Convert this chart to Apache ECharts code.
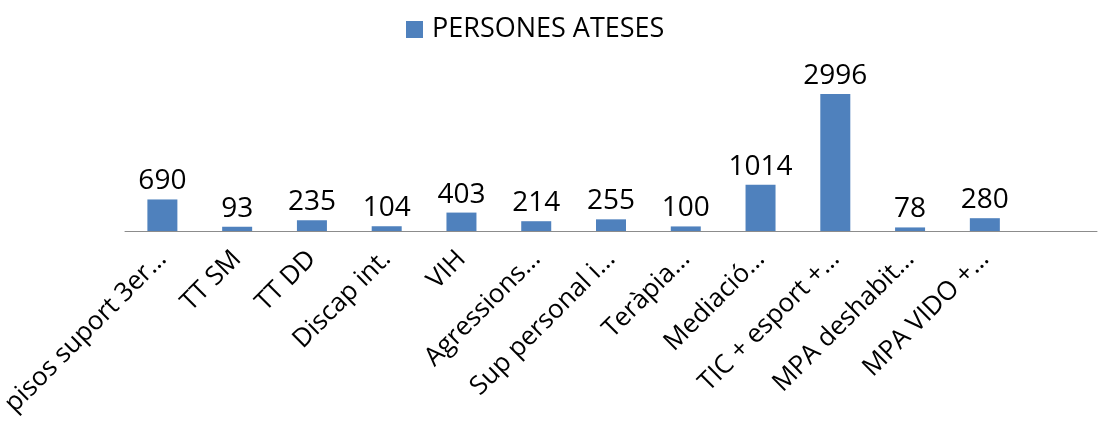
<!DOCTYPE html>
<html lang="ca">
<head>
    <meta charset="UTF-8"/>
    <title>Persones ateses</title>
    <script src="https://cdn.jsdelivr.net/npm/echarts@6.0.0/dist/echarts.min.js"></script>
    <style>
        * {
            margin: 0;
            padding: 0;
            box-sizing: border-box;
        }

        body {
            background: #FFFFFF;
        }

        #chart {
            width: 1104px;
            height: 428px;
        }
    </style>
</head>
<body>
<div id="chart"></div>
<script>
    const categories = ['pisos suport 3er…', 'TT SM', 'TT DD', 'Discap int.', 'VIH', 'Agressions…',
        'Sup personal i…', 'Teràpia…', 'Mediació…', 'TIC + esport +…', 'MPA deshabit…', 'MPA VIDO +…', ''];
    const ateses = [690, 93, 235, 104, 403, 214, 255, 100, 1014, 2996, 78, 280, null];
    const seriesName = 'PERSONES ATESES';

    const font = "'Open Sans', 'Liberation Sans', sans-serif";
    const myChart = echarts.init(document.getElementById('chart'));

    myChart.setOption({
        animation: false,
        textStyle: {fontFamily: font},
        legend: {
            top: 11,
            left: 401,
            itemWidth: 17,
            itemHeight: 17,
            textStyle: {fontSize: 27, color: '#000', fontFamily: font, padding: [0, 0, 0, 4]},
            data: [{name: seriesName, icon: 'rect'}]
        },
        grid: {
            left: 125,
            right: 7,
            top: 71,
            bottom: 197,
            containLabel: false,
            outerBoundsMode: 'none'
        },
        xAxis: {
            type: 'category',
            data: categories,
            axisLine: {lineStyle: {color: '#8c8c8c', width: 1}},
            axisTick: {show: false},
            axisLabel: {
                interval: 0,
                rotate: 45,
                margin: 24,
                fontSize: 26,
                color: '#000',
                fontFamily: font
            }
        },
        yAxis: {
            type: 'value',
            min: 0,
            max: 3500,
            show: false,
            splitLine: {show: false}
        },
        series: [{
            name: seriesName,
            type: 'bar',
            data: ateses,
            barWidth: 30,
            itemStyle: {color: '#4f81bd'},
            label: {
                show: true,
                position: 'top',
                distance: 4,
                fontSize: 28,
                color: '#000',
                fontFamily: font
            }
        }]
    });
</script>
</body>
</html>
